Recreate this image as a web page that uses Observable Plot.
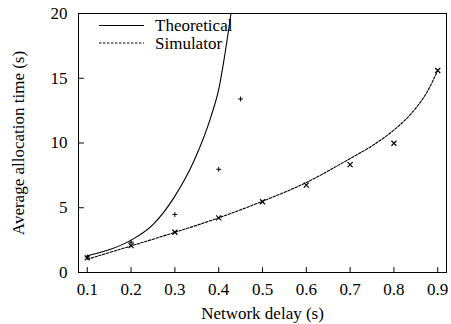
<!DOCTYPE html>
<html>
<head>
<meta charset="utf-8">
<script src="https://cdn.jsdelivr.net/npm/d3@7"></script>
<script src="https://cdn.jsdelivr.net/npm/@observablehq/plot@0.6"></script>
<style>
  body { margin: 0; background: #fff; }
  #wrap { position: relative; width: 451px; height: 324px; }
  #wrap svg text { font-family: "Liberation Serif", "Times New Roman", serif !important; }
  #legend { position: absolute; left: 0; top: 0; width: 451px; height: 60px; pointer-events: none; }
</style>
</head>
<body>
<div id="wrap"></div>
<script>
// ---- data ----
const xTicks = [0.1, 0.2, 0.3, 0.4, 0.5, 0.6, 0.7, 0.8, 0.9];
const yTicks = [0, 5, 10, 15, 20];

const theoX = [0.1, 0.15, 0.2, 0.25, 0.3, 0.344, 0.382, 0.401, 0.412, 0.428];
const theoY = [1.29, 1.75, 2.5, 3.7, 5.9, 8.65, 12.0, 14.3, 16.4, 20.0];

const simX = [0.1, 0.2, 0.3, 0.4, 0.5, 0.6, 0.7, 0.75, 0.8, 0.825, 0.85, 0.875, 0.9];
const simY = [1.02, 2.05, 3.1, 4.22, 5.5, 6.95, 8.8, 9.78, 11.0, 11.76, 12.7, 13.9, 15.6];

const plusX = [0.1, 0.2, 0.3, 0.4, 0.45];
const plusY = [1.2, 2.34, 4.48, 7.97, 13.4];

const crossX = [0.1, 0.2, 0.3, 0.4, 0.5, 0.6, 0.7, 0.8, 0.9];
const crossY = [1.13, 2.08, 3.11, 4.22, 5.46, 6.75, 8.33, 9.98, 15.6];

const legendLabels = ["Theoretical", "Simulator"];

const zip = (xs, ys) => xs.map((x, i) => ({x, y: ys[i]}));

// plain tick line shape for vector marks
const tickShape = {draw(context, l) { context.moveTo(0, 0); context.lineTo(0, -l); }};

const chart = Plot.plot({
  width: 451,
  height: 324,
  marginLeft: 78,
  marginRight: 5,
  marginTop: 13,
  marginBottom: 52,
  style: {fontFamily: "'Liberation Serif', 'Times New Roman', serif", fontSize: "17px", color: "#000", background: "#fff"},
  x: {domain: [0.08, 0.92]},
  y: {domain: [0, 20]},
  marks: [
    Plot.frame({stroke: "#000", strokeWidth: 1}),
    Plot.axisX(xTicks, {tickSize: 0, tickPadding: 10, tickFormat: d => String(d), label: "Network delay (s)", labelAnchor: "center", labelArrow: "none", labelOffset: 46, fontSize: 17}),
    Plot.axisY(yTicks, {tickSize: 0, tickPadding: 11, tickFormat: d => String(d), label: "Average allocation time (s)", labelAnchor: "center", labelArrow: "none", labelOffset: 67, fontSize: 17}),
    Plot.vector(xTicks, {x: d => d, frameAnchor: "bottom", rotate: 0, length: 5, anchor: "start", shape: tickShape, stroke: "#000", strokeWidth: 1}),
    Plot.vector(yTicks, {y: d => d, frameAnchor: "left", rotate: 90, length: 5, anchor: "start", shape: tickShape, stroke: "#000", strokeWidth: 1}),
    Plot.line(zip(theoX, theoY), {x: "x", y: "y", curve: "monotone-x", stroke: "#000", strokeWidth: 1.1}),
    Plot.line(zip(simX, simY), {x: "x", y: "y", curve: "monotone-x", stroke: "#000", strokeWidth: 1.1, strokeDasharray: "2.5,1.5"}),
    Plot.dot(zip(plusX, plusY), {x: "x", y: "y", symbol: "plus", r: 1.7, stroke: "#000", strokeWidth: 1}),
    Plot.dot(zip(crossX, crossY), {x: "x", y: "y", symbol: "times", r: 2.4, stroke: "#000", strokeWidth: 1.2})
  ]
});

const wrap = document.getElementById("wrap");
wrap.appendChild(chart);

// legend (inside plot area, top-left)
const ns = "http://www.w3.org/2000/svg";
const leg = document.createElementNS(ns, "svg");
leg.setAttribute("id", "legend");
leg.setAttribute("width", 451);
leg.setAttribute("height", 60);
const rows = [
  {label: legendLabels[0], dash: null, ly: 25.5, ty: 31},
  {label: legendLabels[1], dash: "2.5,1.5", ly: 43, ty: 48.5}
];
for (const r of rows) {
  const l = document.createElementNS(ns, "line");
  l.setAttribute("x1", 99); l.setAttribute("x2", 144);
  l.setAttribute("y1", r.ly); l.setAttribute("y2", r.ly);
  l.setAttribute("stroke", "#000"); l.setAttribute("stroke-width", 1.1);
  if (r.dash) l.setAttribute("stroke-dasharray", r.dash);
  leg.appendChild(l);
  const t = document.createElementNS(ns, "text");
  t.setAttribute("x", 155); t.setAttribute("y", r.ty);
  t.setAttribute("font-size", 17);
  t.setAttribute("fill", "#000");
  t.textContent = r.label;
  leg.appendChild(t);
}
wrap.appendChild(leg);
</script>
</body>
</html>
